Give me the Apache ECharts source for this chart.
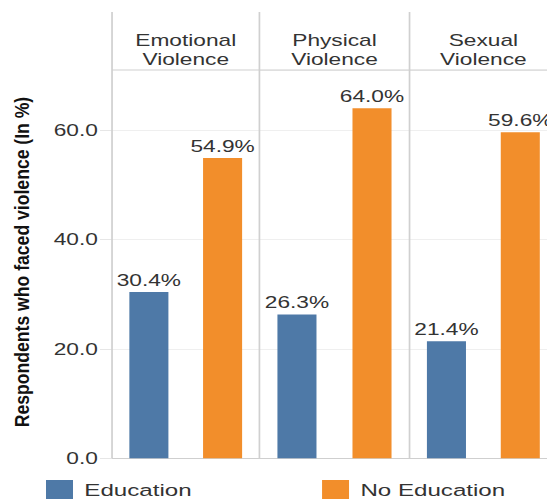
<!DOCTYPE html>
<html>
<head>
<meta charset="utf-8">
<script src="https://cdn.jsdelivr.net/npm/echarts@6/dist/echarts.min.js"></script>
<style>
  html, body { margin: 0; padding: 0; background: #fff; overflow: hidden; width: 547px; height: 499px; }
  #chart { width: 395px; height: 499px; transform: scaleX(1.42); transform-origin: 0 0; }
</style>
</head>
<body>
<div id="chart"></div>
<script>
// Violence types (facet headers) and the share of respondents per group
const categories = ['Emotional\nViolence', 'Physical\nViolence', 'Sexual\nViolence'];
const groups = ['Education', 'No Education'];
const education = [30.4, 26.3, 21.4];
const noEducation = [54.9, 64.0, 59.6];
const yTicks = [0, 20, 40, 60];
const yTitle = 'Respondents who faced violence (In %)';

// Layout (the whole drawing is widened horizontally by the CSS scale)
const SX = 1.42;
const panelLeft = [78.9, 182.7, 288.4];
const panelWidth = [103.8, 105.7, 104.0];
const gridTop = 70, gridHeight = 388.3, headerTop = 12;
const colors = ['#4e79a7', '#f28e2b'];
const textColor = '#333333';
const font = 'Liberation Sans, Arial, sans-serif';

const chart = echarts.init(document.getElementById('chart'), null, { renderer: 'svg' });

const grids = [], xAxes = [], yAxes = [], series = [];
categories.forEach((cat, i) => {
  grids.push({ left: panelLeft[i], width: panelWidth[i], top: gridTop, height: gridHeight });
  xAxes.push({
    type: 'category', gridIndex: i, data: groups,
    axisLine: { show: true, lineStyle: { color: '#cfcfcf', width: 1.2 } },
    axisTick: { show: false }, axisLabel: { show: false }
  });
  yAxes.push({
    type: 'value', gridIndex: i, min: 0, max: 71, interval: 20,
    axisLine: { show: false },
    axisTick: i === 0 ? { show: true, length: 8.5, customValues: yTicks, lineStyle: { color: '#e6e6e6' } } : { show: false },
    axisLabel: i === 0 ? {
      show: true, margin: 10, color: textColor, fontFamily: font, fontSize: 16,
      customValues: yTicks, formatter: v => v.toFixed(1)
    } : { show: false },
    splitLine: { show: true, lineStyle: { color: '#efefef', width: 1 } }
  });
  [education, noEducation].forEach((vals, k) => {
    const data = groups.map((g, j) => (j === k ? vals[i] : '-'));
    series.push({
      type: 'bar', name: groups[k], xAxisIndex: i, yAxisIndex: i,
      data: data, barWidth: 27.5, barGap: '-100%',
      itemStyle: { color: colors[k] },
      label: {
        show: true, position: 'top', distance: 4, color: textColor,
        fontFamily: font, fontSize: 16,
        formatter: p => Number(p.value).toFixed(1) + '%'
      }
    });
  });
});

// Panel frame: vertical separators, header divider and header titles
const graphic = [];
const rightEdge = panelLeft[2] + panelWidth[2];
panelLeft.forEach(x => {
  graphic.push({ type: 'line', silent: true, z: 10,
    shape: { x1: x, y1: headerTop, x2: x, y2: gridTop + gridHeight },
    style: { stroke: '#d0d0d0', lineWidth: 1.2 } });
});
graphic.push({ type: 'line', silent: true, z: 10,
  shape: { x1: panelLeft[0], y1: gridTop, x2: rightEdge + 10, y2: gridTop },
  style: { stroke: '#d0d0d0', lineWidth: 1.2 } });
categories.forEach((cat, i) => {
  graphic.push({ type: 'text', silent: true, z: 10,
    x: panelLeft[i] + panelWidth[i] / 2, y: 49.5,
    style: { text: cat, fill: textColor, font: '16px ' + font,
      align: 'center', verticalAlign: 'middle', textAlign: 'center', textVerticalAlign: 'middle', lineHeight: 19 } });
});
// Rotated axis title, compressed across its glyph height so the CSS widening keeps it close to upright proportions
graphic.push({ type: 'text', silent: true, z: 10,
  x: 15.8, y: 262, rotation: Math.PI / 2, scaleY: 1 / 1.25,
  style: { text: yTitle, fill: '#111111', font: 'bold 17.6px ' + font,
    align: 'center', verticalAlign: 'middle', textAlign: 'center', textVerticalAlign: 'middle' } });

const legendBase = {
  top: 480, padding: 0, itemWidth: 19, itemHeight: 19, icon: 'rect',
  textStyle: { color: textColor, fontFamily: font, fontSize: 17, padding: [0, 0, 0, 3] }
};

chart.setOption({
  animation: false,
  backgroundColor: '#ffffff',
  grid: grids,
  xAxis: xAxes,
  yAxis: yAxes,
  series: series,
  graphic: graphic,
  legend: [
    Object.assign({}, legendBase, { left: 32.4, data: [groups[0]] }),
    Object.assign({}, legendBase, { left: 226.8, data: [groups[1]] })
  ]
});
</script>
</body>
</html>
